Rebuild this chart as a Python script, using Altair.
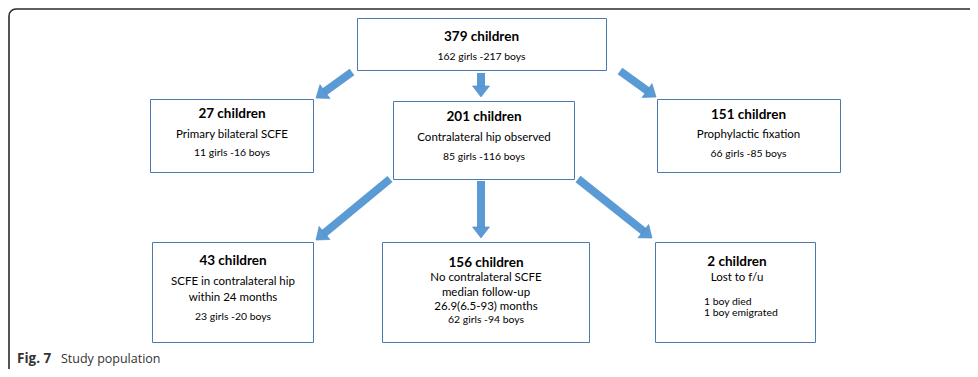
import math
import altair as alt
import pandas as pd

# ---------------- content ----------------
children = [379, 27, 201, 151, 43, 156, 2]
girls = [162, 11, 85, 66, 23, 62, None]
boys = [217, 16, 116, 85, 20, 94, None]
descriptions = [
    [],
    ["Primary bilateral SCFE"],
    ["Contralateral hip observed"],
    ["Prophylactic fixation"],
    ["SCFE in contralateral hip", "within 24 months"],
    ["No contralateral SCFE", "median follow-up", "26.9(6.5-93) months"],
    ["Lost to f/u"],
]
notes = [[], [], [], [], [], [], ["1 boy died", "1 boy emigrated"]]
caption_bold = "Fig. 7"
caption_text = "Study population"

# ---------------- layout (page pixels) ----------------
box_x = [357.5, 150.5, 393.5, 657.5, 152.5, 382.5, 655.5]
box_x2 = [606.5, 313.5, 574.5, 840.5, 313.5, 589.5, 815.5]
box_y = [18.5, 99.5, 101.5, 99.5, 242.5, 242.5, 242.5]
box_y2 = [70.5, 172.5, 179.5, 172.5, 342.5, 342.5, 342.5]
text_cx = [481.5, 232, 484, 748.5, 233, 486, 737]
title_y = [37, 114, 117, 115, 261, 263, 262]
desc_y = [[], [135], [138], [135], [282, 298], [278, 293, 307], [278]]
count_y = [57, 153, 157, 154, 317, 320, None]
note_x = [None, None, None, None, None, None, 704]
note_y = [[], [], [], [], [], [], [302, 313]]

arrow_from = [(352, 72), (481, 73), (620, 71), (390, 179), (481, 181), (578, 179)]
arrow_to = [(316, 98), (481, 97), (656, 97), (316, 240), (481, 238), (652, 238)]
HEAD_R = 8.5  # half head width

# ---------------- build tables ----------------
boxes = pd.DataFrame({"x": box_x, "x2": box_x2, "y": box_y, "y2": box_y2})

titles, descs, counts, notes_rows = [], [], [], []
for i, n in enumerate(children):
    titles.append({"x": text_cx[i], "y": title_y[i], "t": f"{n} children"})
    for line, yy in zip(descriptions[i], desc_y[i]):
        descs.append({"x": text_cx[i], "y": yy, "t": line})
    if girls[i] is not None:
        counts.append({"x": text_cx[i], "y": count_y[i], "t": f"{girls[i]} girls -{boys[i]} boys"})
    for line, yy in zip(notes[i], note_y[i]):
        notes_rows.append({"x": note_x[i], "y": yy, "t": line})

shafts, heads = [], []
for (x0, y0), (x1, y1) in zip(arrow_from, arrow_to):
    dx, dy = x1 - x0, y1 - y0
    L = math.hypot(dx, dy)
    ux, uy = dx / L, dy / L
    ang = math.degrees(math.atan2(dx, -dy)) % 360
    shafts.append({"x": x0, "y": y0, "x2": x1 - ux * HEAD_R * 1.05, "y2": y1 - uy * HEAD_R * 1.05})
    heads.append({"x": x1 - ux * HEAD_R, "y": y1 - uy * HEAD_R, "angle": ang})

caption = pd.DataFrame([{"x": 17, "y": 359, "t": caption_bold}])
caption2 = pd.DataFrame([{"x": 61, "y": 359, "t": caption_text}])

XS = alt.Scale(domain=[8, 970], zero=False, nice=False)
YS = alt.Scale(domain=[8, 369], zero=False, nice=False, reverse=True)


def X(f="x"):
    return alt.X(f"{f}:Q", scale=XS, axis=None)


def Y(f="y"):
    return alt.Y(f"{f}:Q", scale=YS, axis=None)


frame = alt.Chart(pd.DataFrame([{"x": 9, "x2": 995, "y": 9, "y2": 385}])).mark_rect(
    fill="white", stroke="#2b2b2b", strokeWidth=1.6, cornerRadius=7, clip=False
).encode(x=X(), x2="x2:Q", y=Y(), y2="y2:Q")

box_layer = alt.Chart(boxes).mark_rect(
    fill="white", stroke="#4a7ab0", strokeWidth=1
).encode(x=X(), x2="x2:Q", y=Y(), y2="y2:Q")

shaft_layer = alt.Chart(pd.DataFrame(shafts)).mark_rule(
    color="#5b9bd5", strokeWidth=8, strokeCap="butt"
).encode(x=X(), x2="x2:Q", y=Y(), y2="y2:Q")

head_layer = alt.Chart(pd.DataFrame(heads)).mark_point(
    shape="M0,-1L1,0.3L-1,0.3Z", filled=True, size=(2 * HEAD_R) ** 2,
    color="#5b9bd5", opacity=1, stroke="#4f8bc4", strokeWidth=0.6
).encode(x=X(), y=Y(), angle=alt.Angle("angle:Q", scale=None))

FONT = "Lato"
title_layer = alt.Chart(pd.DataFrame(titles)).mark_text(
    font=FONT, fontSize=13.5, fontWeight="bold", color="#000000", align="center"
).encode(x=X(), y=Y(), text="t:N")

desc_layer = alt.Chart(pd.DataFrame(descs)).mark_text(
    font=FONT, fontSize=11.5, color="#000000", align="center"
).encode(x=X(), y=Y(), text="t:N")

count_layer = alt.Chart(pd.DataFrame(counts)).mark_text(
    font=FONT, fontSize=10.4, color="#000000", align="center"
).encode(x=X(), y=Y(), text="t:N")

note_layer = alt.Chart(pd.DataFrame(notes_rows)).mark_text(
    font=FONT, fontSize=10.4, color="#000000", align="left"
).encode(x=X(), y=Y(), text="t:N")

cap_layer = alt.Chart(caption).mark_text(
    font="Open Sans", fontSize=13.5, fontWeight="bold", color="#333333", align="left"
).encode(x=X(), y=Y(), text="t:N")

cap_layer2 = alt.Chart(caption2).mark_text(
    font="Open Sans", fontSize=12.5, color="#333333", align="left"
).encode(x=X(), y=Y(), text="t:N")

chart = alt.layer(
    frame, box_layer, shaft_layer, head_layer,
    title_layer, desc_layer, count_layer, note_layer, cap_layer, cap_layer2
).properties(
    width=962, height=361, padding=0, background="white",
    autosize=alt.AutoSizeParams(type="none")
).configure_view(stroke=None)

chart.save("out.html", embed_options={"renderer": "svg", "actions": False})
